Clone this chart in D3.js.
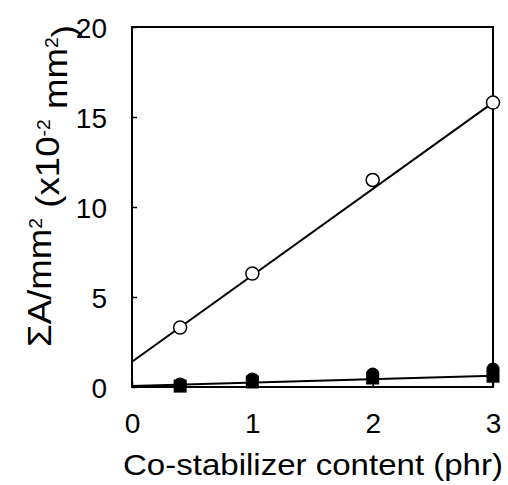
<!DOCTYPE html>
<html>
<head>
<meta charset="utf-8">
<script src="https://cdn.jsdelivr.net/npm/d3@7"></script>
<style>
  body { margin: 0; background: #fff; }
  text { font-family: "Liberation Sans", Arial, sans-serif; fill: #000; }
</style>
</head>
<body>
<div id="chart"></div>
<script>
// co-stabilizer content (phr)
var xs = [0.4, 1, 2, 3];
// open circles
var openVals = [3.3, 6.3, 11.5, 15.8];
// filled circles
var filledCircleVals = [0.17, 0.45, 0.72, 1.0];
// filled squares
var filledSquareVals = [0.05, 0.28, 0.5, 0.6];
// fitted lines, endpoints at x = 0 and x = 3
var openFit = [[0, 1.4], [3, 15.8]];
var filledFit = [[0, 0.05], [3, 0.62]];
var xTicks = [0, 1, 2, 3];
var yTicks = [0, 5, 10, 15, 20];

var W = 508, H = 485;
var m = { left: 132, right: 15, top: 27, bottom: 98 };

var svg = d3.select("#chart").append("svg")
  .attr("width", W).attr("height", H);

var x = d3.scaleLinear().domain([0, 3]).range([m.left, W - m.right]);
var y = d3.scaleLinear().domain([0, 20]).range([H - m.bottom, m.top]);

// frame
svg.append("rect")
  .attr("x", x(0)).attr("y", y(20))
  .attr("width", x(3) - x(0)).attr("height", y(0) - y(20))
  .attr("fill", "none").attr("stroke", "#000").attr("stroke-width", 2);

// axes with inward ticks
var fmt = d3.format("d");
var xAxis = svg.append("g")
  .attr("transform", "translate(0," + y(0) + ")")
  .call(d3.axisBottom(x).tickValues(xTicks).tickFormat(fmt).tickSizeInner(-5).tickSizeOuter(0).tickPadding(26));
var yAxis = svg.append("g")
  .attr("transform", "translate(" + x(0) + ",0)")
  .call(d3.axisLeft(y).tickValues(yTicks).tickFormat(fmt).tickSizeInner(-5).tickSizeOuter(0).tickPadding(25));
[xAxis, yAxis].forEach(function (g) {
  g.select(".domain").remove();
  g.selectAll(".tick line").attr("stroke", "#000").attr("stroke-width", 1.5);
  g.selectAll(".tick text").style("font-size", "28px")
    .style("font-family", "'Liberation Sans', Arial, sans-serif");
});
yAxis.selectAll(".tick text").attr("dy", "0.36em");

// fitted lines
var line = d3.line().x(function (d) { return x(d[0]); }).y(function (d) { return y(d[1]); });
[openFit, filledFit].forEach(function (f) {
  svg.append("path").attr("d", line(f))
    .attr("fill", "none").attr("stroke", "#000").attr("stroke-width", 2);
});

// filled squares
svg.selectAll(".sq").data(xs).enter().append("rect")
  .attr("x", function (d) { return x(d) - 6.5; })
  .attr("y", function (d, i) { return y(filledSquareVals[i]) - 6.5; })
  .attr("width", 13).attr("height", 13).attr("fill", "#000");

// filled circles
svg.selectAll(".fc").data(xs).enter().append("circle")
  .attr("cx", function (d) { return x(d); })
  .attr("cy", function (d, i) { return y(filledCircleVals[i]); })
  .attr("r", 6.5).attr("fill", "#000");

// open circles
svg.selectAll(".oc").data(xs).enter().append("circle")
  .attr("cx", function (d) { return x(d); })
  .attr("cy", function (d, i) { return y(openVals[i]); })
  .attr("r", 6.5).attr("fill", "#fff").attr("stroke", "#000").attr("stroke-width", 1.5);

// x label
svg.append("text")
  .attr("x", 313).attr("y", 475)
  .attr("text-anchor", "middle").style("font-size", "30px")
  .attr("textLength", 380).attr("lengthAdjust", "spacingAndGlyphs")
  .text("Co-stabilizer content (phr)");

// y label
var yl = svg.append("text")
  .attr("transform", "translate(51,186) rotate(-90)")
  .attr("text-anchor", "middle").style("font-size", "34px")
  .attr("textLength", 322).attr("lengthAdjust", "spacingAndGlyphs");
yl.append("tspan").text("ΣA/mm");
yl.append("tspan").attr("dy", "-0.5em").style("font-size", "18px").text("2");
yl.append("tspan").attr("dy", "0.5em").text(" (x10");
yl.append("tspan").attr("dy", "-0.5em").style("font-size", "18px").text("-2");
yl.append("tspan").attr("dy", "0.5em").text(" mm");
yl.append("tspan").attr("dy", "-0.5em").style("font-size", "18px").text("2");
yl.append("tspan").attr("dy", "0.5em").text(")");
</script>
</body>
</html>
